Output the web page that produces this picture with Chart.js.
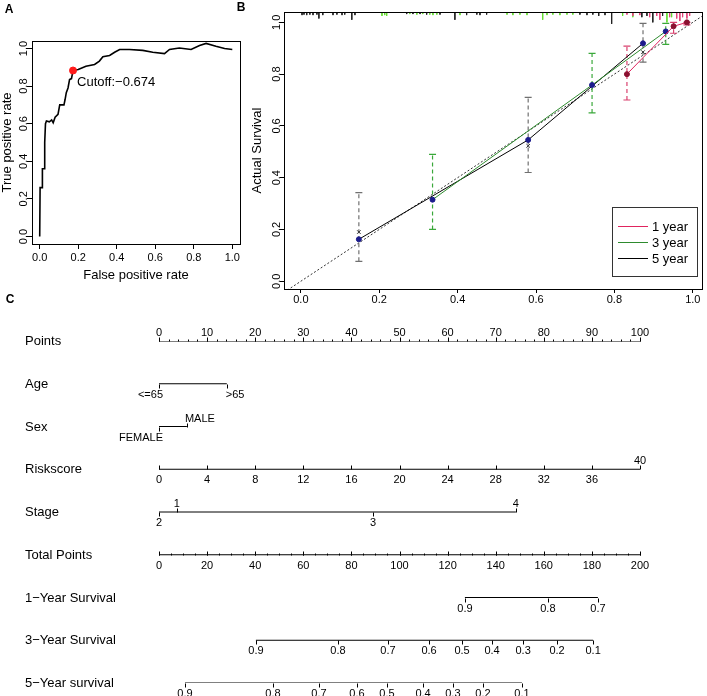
<!DOCTYPE html>
<html>
<head>
<meta charset="utf-8">
<script src="https://cdn.jsdelivr.net/npm/chart.js@4.4.0/dist/chart.umd.min.js"></script>
<style>
  body { margin: 0; background: #fff; width: 707px; height: 696px; position: relative; overflow: hidden; }
  canvas { position: absolute; }
  #rocA { left: 0; top: 0; }
  #calB { left: 232px; top: 0; }
  #nomoC { left: 0; top: 292px; }
</style>
</head>
<body>
<canvas id="nomoC" width="707" height="404"></canvas>
<canvas id="rocA" width="245" height="290"></canvas>
<canvas id="calB" width="475" height="305"></canvas>
<script>
// ---- A: ROC curve ----
const rocFpr = [0, 0.002, 0.012, 0.014, 0.024, 0.026, 0.03, 0.035, 0.05, 0.062, 0.07, 0.08, 0.095, 0.104, 0.126, 0.132, 0.138, 0.147, 0.155, 0.165, 0.173, 0.2, 0.24, 0.285, 0.31, 0.328, 0.363, 0.389, 0.415, 0.466, 0.535, 0.587, 0.648, 0.674, 0.725, 0.786, 0.83, 0.864, 0.915, 0.96, 1.0];
const rocTpr = [0, 0.26, 0.26, 0.36, 0.36, 0.5, 0.6, 0.615, 0.61, 0.62, 0.605, 0.635, 0.65, 0.70, 0.70, 0.73, 0.765, 0.79, 0.835, 0.84, 0.883, 0.888, 0.906, 0.915, 0.933, 0.956, 0.963, 0.98, 0.995, 0.995, 0.99, 0.98, 0.973, 0.995, 1.003, 0.995, 1.016, 1.027, 1.012, 1.0, 0.995];
const cutFpr = 0.173, cutTpr = 0.883, cutLabel = 'Cutoff:\u22120.674';
const axisTicks = [0, 0.2, 0.4, 0.6, 0.8, 1.0];

// ---- B: calibration ----
const cal1X = [0.832, 0.951, 0.985];
const cal1Y = [0.80, 0.985, 1.0];
const cal1Lo = [0.70, 0.958, 0.99];
const cal1Hi = [0.908, 1.0, 1.0];
const cal3X = [0.336, 0.743, 0.931];
const cal3Y = [0.315, 0.758, 0.965];
const cal3Lo = [0.20, 0.65, 0.915];
const cal3Hi = [0.49, 0.88, 0.996];
const cal5X = [0.148, 0.58, 0.873];
const cal5Y = [0.162, 0.546, 0.919];
const cal5Lo = [0.077, 0.42, 0.846];
const cal5Hi = [0.342, 0.71, 0.996];
const cal5Bias = [0.19, 0.523, 0.885];
const legendLabels = ['1 year', '3 year', '5 year'];

const rug5X = [0.003,0.008,0.015,0.023,0.031,0.041,0.046,0.056,0.082,0.092,0.105,0.112,0.130,0.138,0.270,0.286,0.304,0.321,0.355,0.393,0.423,0.449,0.457,0.474,0.712,0.730,0.745,0.760,0.776,0.793,0.870,0.883,0.898,0.923];
const rug5H = [0.012,0.01,0.012,0.01,0.012,0.01,0.025,0.012,0.012,0.01,0.012,0.01,0.03,0.012,0.008,0.008,0.008,0.01,0.01,0.03,0.012,0.01,0.012,0.01,0.01,0.012,0.01,0.015,0.012,0.046,0.02,0.015,0.04,0.015];
const rug3X = [0.207,0.214,0.219,0.278,0.296,0.311,0.329,0.337,0.347,0.406,0.526,0.541,0.559,0.577,0.617,0.628,0.643,0.661,0.679,0.694,0.821,0.847,0.934,0.946];
const rug3H = [0.015,0.012,0.015,0.008,0.01,0.008,0.01,0.012,0.01,0.012,0.01,0.012,0.01,0.012,0.03,0.012,0.01,0.012,0.01,0.01,0.015,0.02,0.04,0.02];
const rug1X = [0.832,0.847,0.865,0.890,0.908,0.916,0.941,0.959,0.967,0.974,0.985,0.992];
const rug1H = [0.01,0.015,0.012,0.02,0.015,0.03,0.02,0.025,0.035,0.02,0.025,0.015];

// ---- C: nomogram ----
const rowNames = ['Points', 'Age', 'Sex', 'Riskscore', 'Stage', 'Total Points', '1\u2212Year Survival', '3\u2212Year Survival', '5\u2212Year survival'];
const pointsTicks = [0, 10, 20, 30, 40, 50, 60, 70, 80, 90, 100];
const ageLabels = ['<=65', '>65'];
const agePts = [0, 14.1];
const sexLabels = ['FEMALE', 'MALE'];
const sexPts = [0, 5.8];
const riskTicks = [0, 4, 8, 12, 16, 20, 24, 28, 32, 36, 40];
const stageLabels = ['2', '1', '3', '4'];
const stagePts = [0, 3.7, 44.5, 74.2];
const totalTicks = [0, 20, 40, 60, 80, 100, 120, 140, 160, 180, 200];
const surv1Labels = ['0.9', '0.8', '0.7'];
const surv1Total = [127.2, 161.7, 182.5];
const surv3Labels = ['0.9', '0.8', '0.7', '0.6', '0.5', '0.4', '0.3', '0.2', '0.1'];
const surv3Total = [40.3, 74.4, 95.2, 112.3, 126, 138.5, 151.4, 165.5, 180.5];
const surv5Labels = ['0.9', '0.8', '0.7', '0.6', '0.5', '0.4', '0.3', '0.2', '0.1'];
const surv5Total = [10.8, 47.4, 66.5, 82.3, 94.8, 109.8, 122.2, 134.7, 150.9];

const FONT = "'Liberation Sans', Arial, Helvetica, sans-serif";
Chart.defaults.font.family = FONT;
Chart.defaults.color = '#000';
Chart.defaults.animation = false;
Chart.defaults.responsive = false;
Chart.defaults.plugins.legend.display = false;
Chart.defaults.plugins.tooltip.enabled = false;

const RED = '#e0245e', GREEN = '#2e8b2e', BLACK = '#000';

// box round the plot area, like R's bty="o"
const boxPlugin = { id: 'box', afterDraw(chart) {
  const a = chart.chartArea, c = chart.ctx;
  c.save(); c.strokeStyle = '#000'; c.lineWidth = 1;
  c.strokeRect(Math.round(a.left) + 0.5, Math.round(a.top) + 0.5, Math.round(a.right - a.left), Math.round(a.bottom - a.top));
  c.restore();
}};

// rotated y tick labels (R las=0)
function yLabelPlugin(vals, tick) {
  return { id: 'ylab', afterDraw(chart) {
    const s = chart.scales.y, c = chart.ctx;
    c.save(); c.font = '11px ' + FONT; c.fillStyle = '#000';
    c.textAlign = 'center'; c.textBaseline = 'alphabetic';
    vals.forEach(v => {
      c.save();
      c.translate(s.right - tick, s.getPixelForValue(v));
      c.rotate(-Math.PI / 2);
      c.fillText(v.toFixed(1), 0, 0);
      c.restore();
    });
    c.restore();
  }};
}

function letterPlugin(ch, x, y) {
  return { id: 'letter', afterDraw(chart) {
    const c = chart.ctx;
    c.save(); c.font = 'bold 12px ' + FONT; c.fillStyle = '#000';
    c.textAlign = 'center'; c.textBaseline = 'middle';
    c.fillText(ch, x, y); c.restore();
  }};
}

function fixedTicks(vals) { return s => { s.ticks = vals.map(v => ({ value: v })); }; }

// ---------- A ----------
const cutPlugin = { id: 'cut', afterDatasetsDraw(chart) {
  const c = chart.ctx;
  const x = chart.scales.x.getPixelForValue(cutFpr), y = chart.scales.y.getPixelForValue(cutTpr);
  c.save(); c.font = '13px ' + FONT; c.fillStyle = '#000';
  c.textAlign = 'left'; c.textBaseline = 'middle';
  c.fillText(cutLabel, x + 4, y + 12); c.restore();
}};

new Chart(document.getElementById('rocA'), {
  type: 'scatter',
  data: { datasets: [
    { type: 'scatter', data: [{ x: cutFpr, y: cutTpr }], pointRadius: 3.5, backgroundColor: '#ff1a1a', borderColor: '#ff1a1a' },
    { type: 'line', data: rocFpr.map((x, i) => ({ x, y: rocTpr[i] })), borderColor: '#000', borderWidth: 1.6, pointRadius: 0, tension: 0 }
  ]},
  options: {
    layout: { padding: { top: 41, right: 4, left: 0, bottom: 0 } },
    scales: {
      x: { type: 'linear', min: -0.04, max: 1.04, afterFit: s => { s.height = 46; }, afterBuildTicks: fixedTicks(axisTicks),
        ticks: { font: { size: 11 }, padding: 2, autoSkip: false, maxRotation: 0, callback: v => v.toFixed(1) },
        grid: { drawOnChartArea: false, tickLength: 5, color: '#000' }, border: { color: '#000' },
        title: { display: true, text: 'False positive rate', font: { size: 13 }, padding: { top: 0, bottom: 7 } } },
      y: { type: 'linear', min: -0.04, max: 1.04, afterFit: s => { s.width = 32; }, afterBuildTicks: fixedTicks(axisTicks),
        ticks: { display: false },
        grid: { drawOnChartArea: false, tickLength: 5, color: '#000' }, border: { color: '#000' },
        title: { display: true, text: 'True positive rate', font: { size: 13 }, padding: { top: 0, bottom: 0 } } }
    }
  },
  plugins: [boxPlugin, yLabelPlugin(axisTicks, 5), cutPlugin, letterPlugin('A', 9, 10)]
});

// ---------- B ----------
const rugTop = 1.04;
function ptsOf(xs, ys) { return xs.map((x, i) => ({ x, y: ys[i] })); }
function barsOf(xs, lo, hi) { const d = []; xs.forEach((x, i) => d.push({ x, y: lo[i] }, { x, y: hi[i] }, { x, y: null })); return d; }
function rugOf(xs, hs) { const d = []; xs.forEach((x, i) => d.push({ x, y: rugTop }, { x, y: rugTop - hs[i] }, { x, y: null })); return d; }

const seriesDs = (xs, ys, col, dot) => ({ type: 'line', data: ptsOf(xs, ys), borderColor: col, borderWidth: 1, pointRadius: 2.5,
  pointBackgroundColor: dot, pointBorderColor: dot, tension: 0 });
const barDs = (xs, lo, hi, col) => ({ type: 'line', data: barsOf(xs, lo, hi), borderColor: col, borderWidth: 1.2, borderDash: [4, 3],
  pointStyle: 'line', pointRadius: 3.5, pointBorderColor: col, pointBorderWidth: 1.2, spanGaps: false });
const rugDs = (xs, hs, col) => ({ type: 'line', data: rugOf(xs, hs), borderColor: col, borderWidth: 1, pointRadius: 0, spanGaps: false });

const legendPlugin = { id: 'calLegend', afterDraw(chart) {
  const a = chart.chartArea, c = chart.ctx;
  const r = Math.round(a.right) - 5, b = Math.round(a.bottom) - 13, w = 85, h = 69;
  const cols = [RED, GREEN, BLACK];
  c.save();
  c.fillStyle = '#fff'; c.fillRect(r - w, b - h, w, h);
  c.strokeStyle = '#333'; c.lineWidth = 1; c.strokeRect(r - w + 0.5, b - h + 0.5, w, h);
  c.font = '13px ' + FONT; c.textAlign = 'left'; c.textBaseline = 'middle'; c.fillStyle = '#000';
  legendLabels.forEach((t, i) => {
    const y = b - h + 19.5 + i * 16;
    c.strokeStyle = cols[i]; c.beginPath(); c.moveTo(r - w + 6, y); c.lineTo(r - w + 36, y); c.stroke();
    c.fillText(t, r - w + 40, y + 1);
  });
  c.restore();
}};

new Chart(document.getElementById('calB'), {
  type: 'scatter',
  data: { datasets: [
    seriesDs(cal1X, cal1Y, RED, '#8b1030'),
    seriesDs(cal3X, cal3Y, GREEN, '#1c1c8c'),
    seriesDs(cal5X, cal5Y, BLACK, '#1c1c8c'),
    { type: 'scatter', data: ptsOf(cal5X, cal5Bias), pointStyle: 'crossRot', pointRadius: 2.5, borderColor: '#333', borderWidth: 1 },
    barDs(cal1X, cal1Lo, cal1Hi, '#d9406e'),
    barDs(cal3X, cal3Lo, cal3Hi, '#3aa83a'),
    barDs(cal5X, cal5Lo, cal5Hi, '#707070'),
    rugDs(rug1X, rug1H, '#e4457a'),
    rugDs(rug3X, rug3H, '#66dd33'),
    rugDs(rug5X, rug5H, '#222'),
    { type: 'line', data: [{ x: -0.06, y: -0.06 }, { x: 1.06, y: 1.06 }], borderColor: '#333', borderWidth: 1, borderDash: [2, 2], pointRadius: 0 }
  ]},
  options: {
    layout: { padding: { top: 12, right: 5, left: 0, bottom: 0 } },
    scales: {
      x: { type: 'linear', min: -0.043, max: 1.023, afterFit: s => { s.height = 16; }, afterBuildTicks: fixedTicks(axisTicks),
        ticks: { font: { size: 11 }, padding: 0, autoSkip: false, maxRotation: 0, callback: v => v.toFixed(1) },
        grid: { drawOnChartArea: false, tickLength: 4, color: '#000' }, border: { color: '#000' } },
      y: { type: 'linear', min: -0.03, max: 1.04, afterFit: s => { s.width = 52; }, afterBuildTicks: fixedTicks(axisTicks),
        ticks: { display: false },
        grid: { drawOnChartArea: false, tickLength: 4, color: '#000' }, border: { color: '#000' },
        title: { display: true, text: 'Actual Survival', font: { size: 13 }, padding: { top: 18, bottom: 0 } } }
    }
  },
  plugins: [boxPlugin, yLabelPlugin(axisTicks, 4), legendPlugin, letterPlugin('B', 9, 8)]
});

// ---------- C ----------
const nomoRows = [
  { pts: pointsTicks, labels: pointsTicks.map(String), side: pointsTicks.map(() => 'above'), tick: 'up', minor: 2 },
  { pts: agePts, labels: ageLabels, side: ['below', 'below'], tick: 'down', align: ['right', 'left'], dx: [4, -1] },
  { pts: sexPts, labels: sexLabels, side: ['below', 'above'], tick: 'side', align: ['right', 'left'], dx: [4, -2] },
  { pts: riskTicks.map(v => v * 2.5), labels: riskTicks.map(String), side: riskTicks.map(v => v === 40 ? 'above' : 'below'), tick: 'up' },
  { pts: stagePts, labels: stageLabels, side: ['below', 'above', 'below', 'above'], tick: 'side' },
  { pts: totalTicks.map(v => v / 2), labels: totalTicks.map(String), side: totalTicks.map(() => 'below'), tick: 'up', minor: 2.5 },
  { pts: surv1Total.map(v => v / 2), labels: surv1Labels, side: surv1Labels.map(() => 'below'), tick: 'down' },
  { pts: surv3Total.map(v => v / 2), labels: surv3Labels, side: surv3Labels.map(() => 'below'), tick: 'down' },
  { pts: surv5Total.map(v => v / 2), labels: surv5Labels, side: surv5Labels.map(() => 'below'), tick: 'down' }
];

const nomoPlugin = { id: 'nomo', afterDatasetsDraw(chart) {
  const c = chart.ctx, xs = chart.scales.x, ys = chart.scales.y;
  c.save(); c.fillStyle = '#000'; c.strokeStyle = '#000'; c.lineWidth = 1;
  const seg = (x, y0, y1) => { c.beginPath(); c.moveTo(Math.round(x) + 0.5, y0); c.lineTo(Math.round(x) + 0.5, y1); c.stroke(); };
  nomoRows.forEach((r, i) => {
    const y = Math.round(ys.getPixelForValue(i)) + 0.5;
    c.font = '13px ' + FONT; c.textAlign = 'left'; c.textBaseline = 'middle';
    c.fillText(rowNames[i], 25, y);
    if (r.minor) {
      const lo = Math.min(...r.pts), hi = Math.max(...r.pts);
      for (let p = lo; p <= hi + 1e-6; p += r.minor) seg(xs.getPixelForValue(p), y, y - 2);
    }
    c.font = '11px ' + FONT;
    r.pts.forEach((p, k) => {
      const x = xs.getPixelForValue(p);
      const above = r.side[k] === 'above';
      const up = r.tick === 'up' || (r.tick === 'side' && above);
      seg(x, y, up ? y - 4 : y + 4);
      c.textAlign = r.align ? r.align[k] : 'center';
      c.fillText(r.labels[k], x + (r.dx ? r.dx[k] : 0), above ? y - 9 : y + 10);
    });
  });
  c.restore();
}};

new Chart(document.getElementById('nomoC'), {
  type: 'scatter',
  data: { datasets: nomoRows.map((r, i) => ({
    type: 'line', data: [{ x: Math.min(...r.pts), y: i }, { x: Math.max(...r.pts), y: i }],
    borderColor: '#000', borderWidth: 1, pointRadius: 0
  })) },
  options: {
    layout: { padding: { top: 49, right: 67, left: 159, bottom: 13 } },
    scales: {
      x: { type: 'linear', min: 0, max: 100, display: false },
      y: { type: 'linear', min: 0, max: 8, reverse: true, display: false }
    }
  },
  plugins: [nomoPlugin, letterPlugin('C', 10, 8)]
});
</script>
</body>
</html>
